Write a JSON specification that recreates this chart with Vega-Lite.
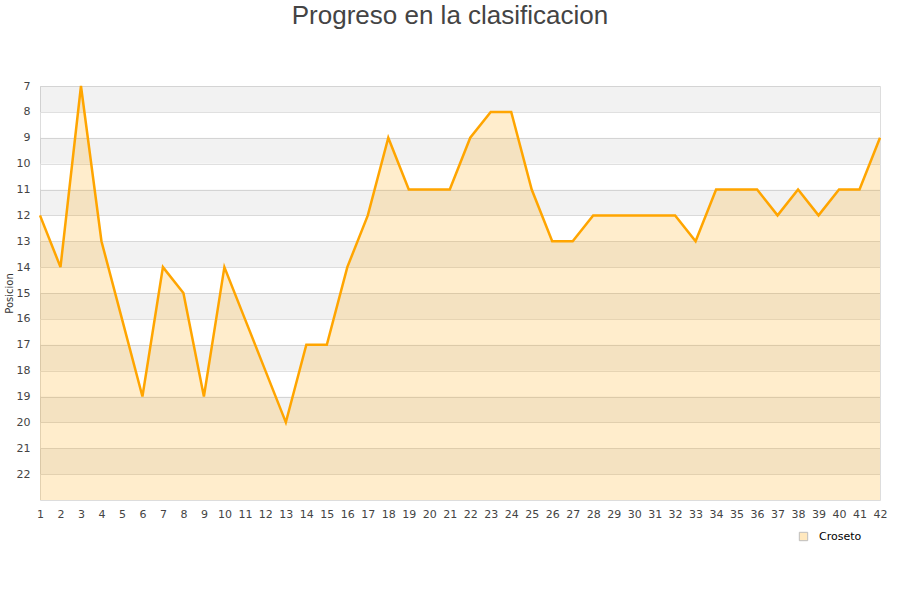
{
  "$schema": "https://vega.github.io/schema/vega-lite/v6.json",
  "width": 840,
  "height": 414,
  "autosize": "none",
  "padding": {"left": 40, "top": 86, "right": 20, "bottom": 100},
  "background": "white",
  "config": {
    "view": {"stroke": "#dddddd", "strokeWidth": 1},
    "font": "DejaVu Sans"
  },
  "title": {
    "text": "Progreso en la clasificacion",
    "font": "Liberation Sans",
    "fontSize": 26,
    "fontWeight": "normal",
    "color": "#444444",
    "anchor": "middle",
    "dx": -10,
    "offset": 51
  },
  "datasets": {
    "bands": [
      {"a": 7, "b": 8}, {"a": 9, "b": 10}, {"a": 11, "b": 12}, {"a": 13, "b": 14},
      {"a": 15, "b": 16}, {"a": 17, "b": 18}, {"a": 19, "b": 20}, {"a": 21, "b": 22}
    ],
    "pos": [
      {"j": 1, "p": 12}, {"j": 2, "p": 14}, {"j": 3, "p": 7}, {"j": 4, "p": 13},
      {"j": 5, "p": 16}, {"j": 6, "p": 19}, {"j": 7, "p": 14}, {"j": 8, "p": 15},
      {"j": 9, "p": 19}, {"j": 10, "p": 14}, {"j": 11, "p": 16}, {"j": 12, "p": 18},
      {"j": 13, "p": 20}, {"j": 14, "p": 17}, {"j": 15, "p": 17}, {"j": 16, "p": 14},
      {"j": 17, "p": 12}, {"j": 18, "p": 9}, {"j": 19, "p": 11}, {"j": 20, "p": 11},
      {"j": 21, "p": 11}, {"j": 22, "p": 9}, {"j": 23, "p": 8}, {"j": 24, "p": 8},
      {"j": 25, "p": 11}, {"j": 26, "p": 13}, {"j": 27, "p": 13}, {"j": 28, "p": 12},
      {"j": 29, "p": 12}, {"j": 30, "p": 12}, {"j": 31, "p": 12}, {"j": 32, "p": 12},
      {"j": 33, "p": 13}, {"j": 34, "p": 11}, {"j": 35, "p": 11}, {"j": 36, "p": 11},
      {"j": 37, "p": 12}, {"j": 38, "p": 11}, {"j": 39, "p": 12}, {"j": 40, "p": 11},
      {"j": 41, "p": 11}, {"j": 42, "p": 9}
    ]
  },
  "layer": [
    {
      "data": {"name": "bands"},
      "mark": {"type": "rect", "color": "#000000", "opacity": 0.05},
      "encoding": {
        "y": {
          "field": "a", "type": "quantitative",
          "scale": {"domain": [7, 23], "reverse": true, "zero": false, "nice": false},
          "axis": {"values": [7,8,9,10,11,12,13,14,15,16,17,18,19,20,21,22],
                   "title": "Posicion", "titleFontSize": 10, "titleFontWeight": "normal", "titleColor": "#333333",
                   "titleX": -26, "titleBaseline": "bottom", "labelOverlap": false,
                   "grid": true, "gridColor": "#e0e0e0", "domain": false, "ticks": false,
                   "labelFontSize": 11, "labelColor": "#444444", "labelPadding": 10}
        },
        "y2": {"field": "b"}
      }
    },
    {
      "data": {"name": "pos"},
      "mark": {"type": "area", "fillOpacity": 0.2, "interpolate": "linear"},
      "encoding": {
        "x": {
          "field": "j", "type": "quantitative",
          "scale": {"domain": [1, 42], "nice": false, "zero": false},
          "axis": {"values": [1,2,3,4,5,6,7,8,9,10,11,12,13,14,15,16,17,18,19,20,21,22,23,24,25,26,27,28,29,30,31,32,33,34,35,36,37,38,39,40,41,42],
                   "title": null, "grid": false, "domain": false, "ticks": false, "labelOverlap": false,
                   "labelFontSize": 11, "labelColor": "#444444", "labelPadding": 8, "labelFlush": false}
        },
        "y": {
          "field": "p", "type": "quantitative",
          "axis": {"values": [7,8,9,10,11,12,13,14,15,16,17,18,19,20,21,22],
                   "title": "Posicion", "titleFontSize": 10, "titleFontWeight": "normal", "titleColor": "#333333",
                   "titleX": -26, "titleBaseline": "bottom", "labelOverlap": false,
                   "grid": true, "gridColor": "#e0e0e0", "domain": false, "ticks": false,
                   "labelFontSize": 11, "labelColor": "#444444", "labelPadding": 10}
        },
        "y2": {"datum": 23},
        "fill": {
          "datum": "Croseto", "type": "nominal",
          "scale": {"range": ["#ffa500"]},
          "legend": {
            "title": null, "orient": "none", "legendX": 758, "legendY": 445,
            "symbolType": "square", "symbolSize": 70, "symbolStrokeColor": "#000000", "symbolStrokeWidth": 1,
            "symbolOpacity": 0.25, "labelOffset": 10,
            "labelFontSize": 11, "labelColor": "#000000"
          }
        }
      }
    },
    {
      "data": {"name": "pos"},
      "mark": {"type": "line", "color": "#ffa500", "strokeWidth": 2.5},
      "encoding": {
        "x": {
          "field": "j", "type": "quantitative",
          "axis": {"values": [1,2,3,4,5,6,7,8,9,10,11,12,13,14,15,16,17,18,19,20,21,22,23,24,25,26,27,28,29,30,31,32,33,34,35,36,37,38,39,40,41,42],
                   "title": null, "grid": false, "domain": false, "ticks": false, "labelOverlap": false,
                   "labelFontSize": 11, "labelColor": "#444444", "labelPadding": 8, "labelFlush": false}
        },
        "y": {
          "field": "p", "type": "quantitative",
          "axis": {"values": [7,8,9,10,11,12,13,14,15,16,17,18,19,20,21,22],
                   "title": "Posicion", "titleFontSize": 10, "titleFontWeight": "normal", "titleColor": "#333333",
                   "titleX": -26, "titleBaseline": "bottom", "labelOverlap": false,
                   "grid": true, "gridColor": "#e0e0e0", "domain": false, "ticks": false,
                   "labelFontSize": 11, "labelColor": "#444444", "labelPadding": 10}
        }
      }
    }
  ]
}
